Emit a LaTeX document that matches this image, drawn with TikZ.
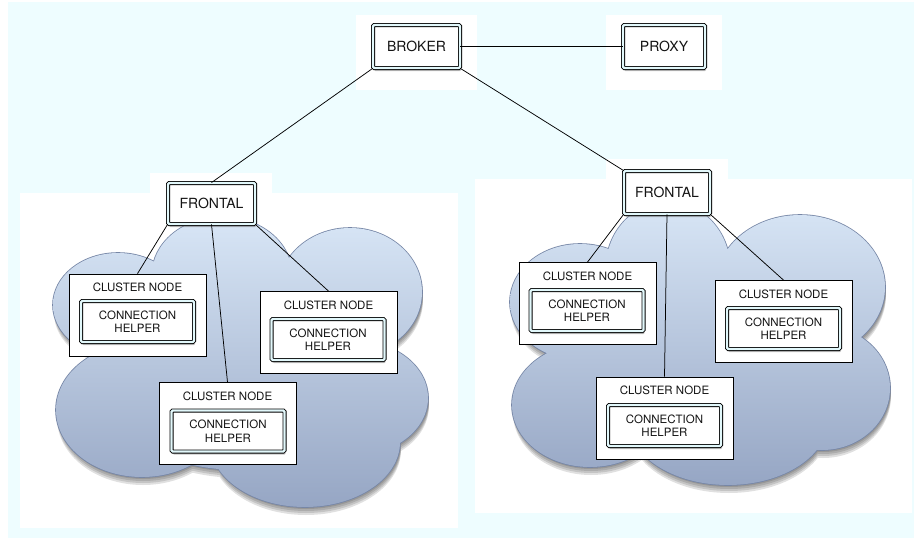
\documentclass[tikz,border=0pt]{standalone}
\usepackage{fontspec}
\setmainfont{TeX Gyre Heros}
\usetikzlibrary{shadows}
\definecolor{bgcyan}{RGB}{238,253,255}
\definecolor{cloudtop}{RGB}{216,230,246}
\definecolor{cloudbot}{RGB}{150,166,196}
\definecolor{cloudline}{RGB}{118,134,166}
\definecolor{dblcol}{RGB}{226,248,251}
\definecolor{txt}{RGB}{20,20,20}
\newcommand\cloudL{(118,305) ellipse [x radius=65,y radius=52]
 (222,275) ellipse [x radius=70,y radius=58]
 (350,292) ellipse [x radius=72,y radius=64]
 (352,398) ellipse [x radius=76,y radius=58]
 (305,442) ellipse [x radius=95,y radius=65]
 (142,410) ellipse [x radius=86,y radius=67]
 (240,370) ellipse [x radius=150,y radius=100]}
\newcommand\cloudR{(580,302) ellipse [x radius=70,y radius=58]
 (668,268) ellipse [x radius=62,y radius=66]
 (800,287) ellipse [x radius=85,y radius=72]
 (822,388) ellipse [x radius=68,y radius=62]
 (728,420) ellipse [x radius=100,y radius=65]
 (590,405) ellipse [x radius=78,y radius=62]
 (700,360) ellipse [x radius=150,y radius=90]}
\tikzset{
  dbox/.style={draw=black, line width=0.9pt, double=dblcol, double distance=2.2pt,
    fill=white, rounded corners=1.2pt, inner sep=0pt, text=txt,
    drop shadow={opacity=0.45, shadow xshift=1.2pt, shadow yshift=-3pt}},
  bigbox/.style={dbox, font=\fontsize{14}{16}\selectfont, minimum width=87pt, minimum height=43pt},
  chbox/.style={dbox, font=\fontsize{11.5}{13.5}\selectfont, align=center, minimum width=113pt, minimum height=41pt},
  cnbox/.style={draw=black, line width=0.8pt, fill=white, minimum width=137pt, minimum height=82pt, inner sep=0pt},
  cnlab/.style={font=\fontsize{11.5}{14}\selectfont, text=txt, inner sep=0pt},
  conn/.style={draw=black, line width=0.75pt},
  cloudshadow/.style={fill=black, opacity=0.12}
}
\begin{document}
\begin{tikzpicture}[x=1pt,y=-1pt]
\useasboundingbox (0,0) rectangle (914,539);
% background and white panels
\fill[white] (0,0) rectangle (914,539);
\fill[bgcyan] (8,2) rectangle (914,538);
\fill[white] (20,193) rectangle (458,528);
\fill[white] (150,173) rectangle (272,193);
\fill[white] (475,179) rectangle (912,513);
\fill[white] (606,159) rectangle (728,179);
\fill[white] (356,15) rectangle (477,90);
\fill[white] (606,15) rectangle (722,90);
% clouds
\foreach \s in {2,4,6,8} {
  \fill[cloudshadow, shift={(1,\s)}] \cloudL;
  \fill[cloudshadow, shift={(1,\s)}] \cloudR;
}
\draw[cloudline, line width=1.6pt] \cloudL;
\shade[top color=cloudtop, bottom color=cloudbot] \cloudL;
\draw[cloudline, line width=1.6pt] \cloudR;
\shade[top color=cloudtop, bottom color=cloudbot] \cloudR;
% top level nodes
\node[bigbox] (broker) at (416.5,46.5) {BROKER};
\node[bigbox, minimum width=82pt] (proxy) at (664,46.5) {PROXY};
\node[bigbox, minimum height=41pt] (lf) at (211.5,203.5) {FRONTAL};
\node[bigbox, minimum width=86pt] (rf) at (667,192.5) {FRONTAL};
% left cluster
\node[cnbox] (lcn1) at (137.5,315) {};
\node[cnlab] (lcn1l) at ([yshift=-14pt]lcn1.north) {CLUSTER NODE};
\node[chbox] (lch1) at (137.5,321.5) {CONNECTION\\HELPER};
\node[cnbox] (lcn2) at (328.5,332.5) {};
\node[cnlab] (lcn2l) at ([yshift=-14pt]lcn2.north) {CLUSTER NODE};
\node[chbox] (lch2) at (328,339.5) {CONNECTION\\HELPER};
\node[cnbox] (lcn3) at (227.5,423.5) {};
\node[cnlab] (lcn3l) at ([yshift=-14pt]lcn3.north) {CLUSTER NODE};
\node[chbox] (lch3) at (228,431) {CONNECTION\\HELPER};
% right cluster
\node[cnbox] (rcn1) at (587.5,303.5) {};
\node[cnlab] (rcn1l) at ([yshift=-14pt]rcn1.north) {CLUSTER NODE};
\node[chbox] (rch1) at (587,310.5) {CONNECTION\\HELPER};
\node[cnbox] (rcn2) at (783.5,321.5) {};
\node[cnlab] (rcn2l) at ([yshift=-14pt]rcn2.north) {CLUSTER NODE};
\node[chbox] (rch2) at (783.5,328.5) {CONNECTION\\HELPER};
\node[cnbox] (rcn3) at (664.5,418) {};
\node[cnlab] (rcn3l) at ([yshift=-14pt]rcn3.north) {CLUSTER NODE};
\node[chbox] (rch3) at (664.5,425.5) {CONNECTION\\HELPER};
% connectors
\draw[conn] (broker.east) -- (proxy.west);
\draw[conn] (broker.south west) -- (lf.north);
\draw[conn] (broker.south east) -- (rf.north west);
\draw[conn] (lf.south west) -- (lcn1.north);
\draw[conn] (lf.south) -- (lcn3.north);
\draw[conn] (lf.south east) -- (lcn2.north);
\draw[conn] (rf.south west) -- (rcn1.north);
\draw[conn] (rf.south) -- (rcn3.north);
\draw[conn] (rf.south east) -- (rcn2.north);
\end{tikzpicture}
\end{document}
